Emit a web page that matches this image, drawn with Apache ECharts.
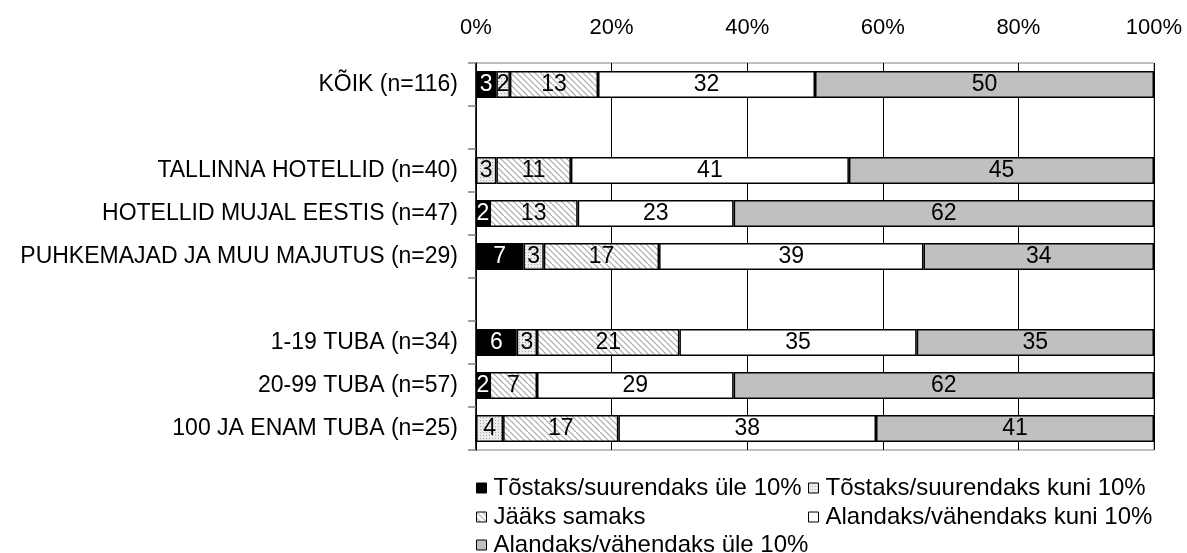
<!DOCTYPE html>
<html>
<head>
<meta charset="utf-8">
<script src="https://cdn.jsdelivr.net/npm/echarts@6/dist/echarts.min.js"></script>
<style>
html,body{margin:0;padding:0;background:#fff;}
#chart{width:1187px;height:553px;}
</style>
</head>
<body>
<div id="chart"></div>
<script>
const categories = ['KÕIK (n=116)', '', 'TALLINNA HOTELLID (n=40)', 'HOTELLID MUJAL EESTIS (n=47)', 'PUHKEMAJAD JA MUU MAJUTUS (n=29)', ' ', '1-19 TUBA (n=34)', '20-99 TUBA (n=57)', '100 JA ENAM TUBA (n=25)'];
const seriesNames = ['Tõstaks/suurendaks üle 10%', 'Tõstaks/suurendaks kuni 10%', 'Jääks samaks', 'Alandaks/vähendaks kuni 10%', 'Alandaks/vähendaks üle 10%'];
const raiseOver10 = [3, '-', 0, 2, 7, '-', 6, 2, 0];
const raiseUpTo10 = [2, '-', 3, 0, 3, '-', 3, 0, 4];
const remainSame  = [13, '-', 11, 13, 17, '-', 21, 7, 17];
const lowerUpTo10 = [32, '-', 41, 23, 39, '-', 35, 29, 38];
const lowerOver10 = [50, '-', 45, 62, 34, '-', 35, 62, 41];
const xTicks = [0, 20, 40, 60, 80, 100];

function hatchPattern() {
  const s = 6;
  const c = document.createElement('canvas');
  c.width = s; c.height = s;
  const g = c.getContext('2d');
  g.fillStyle = '#ffffff'; g.fillRect(0, 0, s, s);
  g.strokeStyle = '#a8a8a8'; g.lineWidth = 1.2;
  for (const k of [-s, 0, s]) {
    g.beginPath(); g.moveTo(k, 0); g.lineTo(k + s, s); g.stroke();
  }
  return c;
}
function dotPattern() {
  const s = 3;
  const c = document.createElement('canvas');
  c.width = s; c.height = s;
  const g = c.getContext('2d');
  g.fillStyle = '#ececec'; g.fillRect(0, 0, s, s);
  g.fillStyle = '#a8a8a8'; g.fillRect(0, 0, 1, 1);
  return c;
}

const fills = [
  '#000000',
  { image: dotPattern(), repeat: 'repeat' },
  { image: hatchPattern(), repeat: 'repeat' },
  '#ffffff',
  '#c0c0c0'
];
const dataSets = [raiseOver10, raiseUpTo10, remainSame, lowerUpTo10, lowerOver10];
const FONT = 'Liberation Sans, Arial, sans-serif';
const FS = 23;

const chart = echarts.init(document.getElementById('chart'), null, { renderer: 'canvas' });

const series = seriesNames.map((name, i) => ({
  name: name,
  type: 'bar',
  stack: 'total',
  data: dataSets[i],
  barWidth: 27,
  itemStyle: { color: fills[i], borderColor: '#000', borderWidth: 1.5 },
  label: {
    show: true,
    position: 'inside',
    color: i === 0 ? '#fff' : '#000',
    fontFamily: FONT,
    fontSize: 23,
    formatter: p => (typeof p.value === 'number' && p.value > 0) ? String(p.value) : ''
  },
  emphasis: { disabled: true }
}));

const legendPos = [
  { left: 476, top: 476 },
  { left: 808, top: 476 },
  { left: 476, top: 505 },
  { left: 808, top: 505 },
  { left: 476, top: 533 }
];
const legends = seriesNames.map((n, i) => ({
  data: [n],
  left: legendPos[i].left,
  top: legendPos[i].top,
  orient: 'horizontal',
  icon: 'rect',
  itemWidth: 10,
  itemHeight: 10,
  itemGap: 0,
  padding: 0,
  selectedMode: false,
  itemStyle: { borderColor: '#000', borderWidth: 1 },
  textStyle: { fontFamily: FONT, fontSize: 24, color: '#000', padding: [0, 0, 0, 2] }
}));

chart.setOption({
  animation: false,
  backgroundColor: '#fff',
  grid: { left: 476, right: 33, top: 63, bottom: 103, show: true, borderColor: '#808080', borderWidth: 1 },
  xAxis: {
    type: 'value',
    position: 'top',
    min: xTicks[0],
    max: xTicks[xTicks.length - 1],
    interval: 20,
    axisLine: { show: false },
    axisTick: { show: false },
    axisLabel: { formatter: '{value}%', fontFamily: FONT, fontSize: 22, color: '#000', margin: 24 },
    splitLine: { show: true, lineStyle: { color: '#000', width: 1 } }
  },
  yAxis: {
    type: 'category',
    inverse: true,
    data: categories,
    axisLine: { show: true, lineStyle: { color: '#000', width: 1.5 } },
    axisTick: { show: true, length: 8, lineStyle: { color: '#808080', width: 1.5 } },
    axisLabel: { fontFamily: FONT, fontSize: FS, color: '#000', margin: 18 }
  },
  legend: legends,
  series: series
});
</script>
</body>
</html>
